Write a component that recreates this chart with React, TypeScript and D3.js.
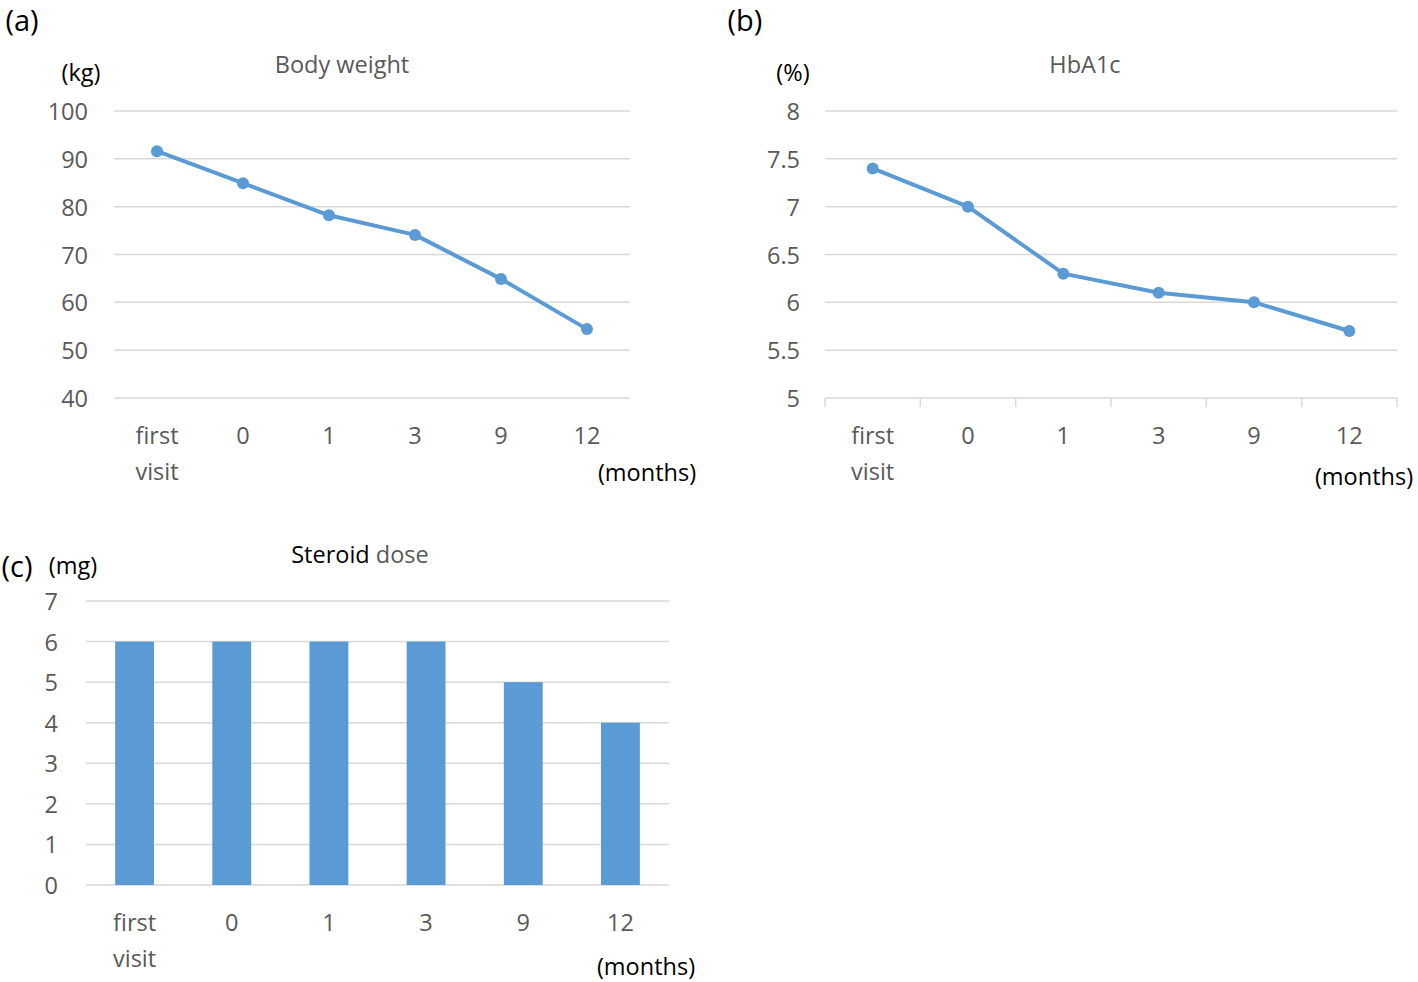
import React from "react";
import * as d3 from "d3";

const categories = ["first visit", "0", "1", "3", "9", "12"];
const bodyWeight = [91.6, 84.9, 78.2, 74.1, 64.9, 54.4];
const hba1c = [7.4, 7.0, 6.3, 6.1, 6.0, 5.7];
const steroidDose = [6, 6, 6, 6, 5, 4];
const weightTicks = [40, 50, 60, 70, 80, 90, 100];
const hbaTicks = [5, 5.5, 6, 6.5, 7, 7.5, 8];
const doseTicks = [0, 1, 2, 3, 4, 5, 6, 7];

const BLUE = "#5B9BD5";
const GRID = "#D9D9D9";
const GRAY_TXT = "#595959";
const FONT = "'Open Sans', sans-serif";
const FS = 23.5;

function CatLabels({ x, y, dy }: { x: d3.ScaleBand<string>; y: number; dy: number }) {
  return (
    <g>
      {categories.map((c) => {
        const cx = (x(c) ?? 0) + x.bandwidth() / 2;
        const parts = c.split(" ");
        return parts.map((p, i) => (
          <text key={c + i} x={cx} y={y + i * dy} textAnchor="middle" dominantBaseline="central"
            fontSize={FS} fill={GRAY_TXT} fontFamily={FONT}>{p}</text>
        ));
      })}
    </g>
  );
}

function LinePanel(props: {
  values: number[]; ticks: number[]; domain: [number, number];
  x0: number; x1: number; yTop: number; yBot: number; tickX: number;
  unit: string; unitX: number; title: string; titleX: number;
  monthsX: number; monthsY: number; axisTicks: boolean; fmt: (v: number) => string;
}) {
  const x = d3.scaleBand<string>().domain(categories).range([props.x0, props.x1]).padding(0);
  const y = d3.scaleLinear().domain(props.domain).range([props.yBot, props.yTop]);
  const cx = (c: string) => (x(c) ?? 0) + x.bandwidth() / 2;
  const line = d3.line<number>().x((_, i) => cx(categories[i])).y((v) => y(v));
  return (
    <g>
      {props.ticks.map((t) => (
        <g key={t}>
          <line x1={props.x0} x2={props.x1} y1={y(t)} y2={y(t)} stroke={GRID} strokeWidth={1.5} />
          <text x={props.tickX} y={y(t)} textAnchor="end" dominantBaseline="central" fontSize={FS}
            fill={GRAY_TXT} fontFamily={FONT}>{props.fmt(t)}</text>
        </g>
      ))}
      {props.axisTicks &&
        [...categories.map((c) => x(c) ?? 0), props.x1].map((bx, i) => (
          <line key={i} x1={bx} x2={bx} y1={props.yBot} y2={props.yBot + 9} stroke={GRID} strokeWidth={1.5} />
        ))}
      <path d={line(props.values) ?? ""} fill="none" stroke={BLUE} strokeWidth={4} strokeLinejoin="round" />
      {props.values.map((v, i) => (
        <circle key={i} cx={cx(categories[i])} cy={y(v)} r={6} fill={BLUE} />
      ))}
      <text x={props.unitX} y={72} textAnchor="middle" dominantBaseline="central" fontSize={FS}
        fill="#000" fontFamily={FONT}>{props.unit}</text>
      <text x={props.titleX} y={64} textAnchor="middle" dominantBaseline="central" fontSize={FS}
        fill={GRAY_TXT} fontFamily={FONT}>{props.title}</text>
      <CatLabels x={x} y={435} dy={36} />
      <text x={props.monthsX} y={props.monthsY} textAnchor="middle" dominantBaseline="central" fontSize={FS}
        fill="#000" fontFamily={FONT}>(months)</text>
    </g>
  );
}

function BarPanel() {
  const x0 = 86, x1 = 669, yTop = 601, yBot = 885;
  const x = d3.scaleBand<string>().domain(categories).range([x0, x1]).paddingInner(0.6).paddingOuter(0.3);
  const xl = d3.scaleBand<string>().domain(categories).range([x0, x1]).padding(0);
  const y = d3.scaleLinear().domain([0, 7]).range([yBot, yTop]);
  return (
    <g>
      {doseTicks.map((t) => (
        <g key={t}>
          <line x1={x0} x2={x1} y1={y(t)} y2={y(t)} stroke={GRID} strokeWidth={1.5} />
          <text x={58} y={y(t)} textAnchor="end" dominantBaseline="central" fontSize={FS}
            fill={GRAY_TXT} fontFamily={FONT}>{t}</text>
        </g>
      ))}
      {steroidDose.map((v, i) => (
        <rect key={i} x={x(categories[i])} y={y(v)} width={x.bandwidth()} height={yBot - y(v)} fill={BLUE} />
      ))}
      <text x={17} y={565} textAnchor="middle" dominantBaseline="central" fontSize={29} fill="#000" fontFamily={FONT}>(c)</text>
      <text x={73} y={565} textAnchor="middle" dominantBaseline="central" fontSize={FS} fill="#000" fontFamily={FONT}>(mg)</text>
      <text x={360} y={554} textAnchor="middle" dominantBaseline="central" fontSize={FS} fontFamily={FONT}>
        <tspan fill="#000">Steroid </tspan>
        <tspan fill={GRAY_TXT}>dose</tspan>
      </text>
      <CatLabels x={xl} y={922} dy={36} />
      <text x={646} y={966} textAnchor="middle" dominantBaseline="central" fontSize={FS} fill="#000" fontFamily={FONT}>(months)</text>
    </g>
  );
}

export default function App() {
  return (
    <svg width={1418} height={982} style={{ position: "absolute", left: 0, top: 0, background: "#fff" }}>
      <rect width={1418} height={982} fill="#fff" />
      <text x={22} y={19} textAnchor="middle" dominantBaseline="central" fontSize={29} fill="#000" fontFamily={FONT}>(a)</text>
      <text x={745} y={19} textAnchor="middle" dominantBaseline="central" fontSize={29} fill="#000" fontFamily={FONT}>(b)</text>
      <LinePanel values={bodyWeight} ticks={weightTicks} domain={[40, 100]} x0={114} x1={630}
        yTop={111} yBot={398} tickX={88} unit="(kg)" unitX={81} title="Body weight" titleX={342}
        monthsX={647} monthsY={472} axisTicks={false} fmt={(v) => String(v)} />
      <LinePanel values={hba1c} ticks={hbaTicks} domain={[5, 8]} x0={825} x1={1397}
        yTop={111} yBot={398} tickX={800} unit="(%)" unitX={793} title="HbA1c" titleX={1085}
        monthsX={1364} monthsY={476} axisTicks={true} fmt={(v) => String(v)} />
      <BarPanel />
    </svg>
  );
}
